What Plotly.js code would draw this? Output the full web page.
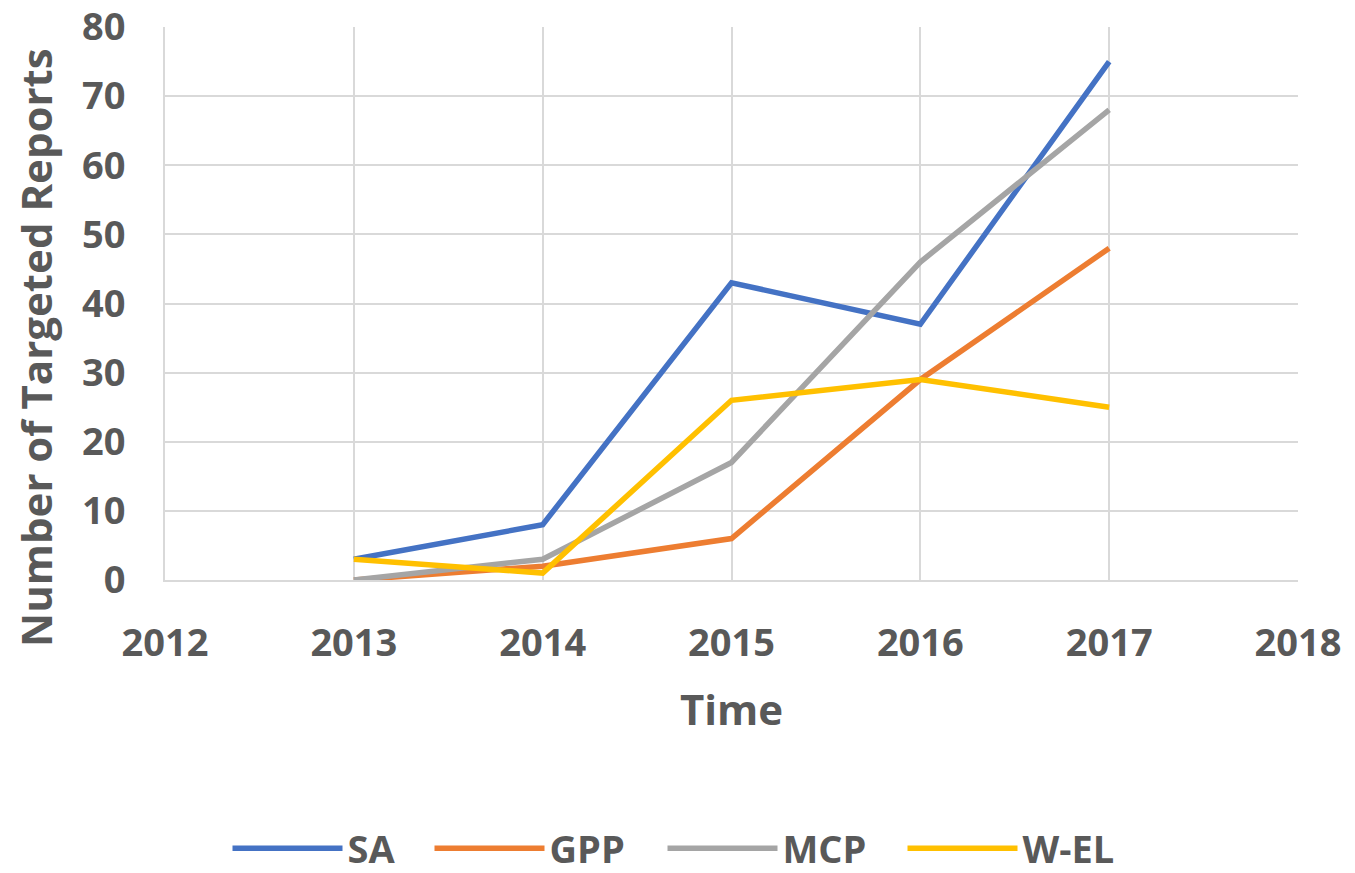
<!DOCTYPE html>
<html><head><meta charset="utf-8">
<script src="https://cdn.plot.ly/plotly-3.0.1.min.js"></script>
<style>body{margin:0}#chart{width:1355px;height:873px}</style>
</head><body><div id="chart"></div>
<script>
const years = [2013, 2014, 2015, 2016, 2017];
const SA = [3, 8, 43, 37, 75];
const GPP = [0, 2, 6, 29, 48];
const MCP = [0, 3, 17, 46, 68];
const WEL = [3, 1, 26, 29, 25];
const seriesNames = ['SA', 'GPP', 'MCP', 'W-EL'];
const seriesColors = ['#4472C4', '#ED7D31', '#A5A5A5', '#FFC000'];
const seriesData = [SA, GPP, MCP, WEL];
const legendWidths = [77, 108, 115, 100];

const font = 'Open Sans, Liberation Sans, sans-serif';
const textColor = '#595959';
const traces = seriesData.map((d, i) => ({
  x: years, y: d, type: 'scatter', mode: 'lines', name: seriesNames[i],
  line: {color: seriesColors[i], width: 5.5},
  legendwidth: legendWidths[i]
}));

const W = 1355, H = 873, mL = 165, mR = 57, mT = 27, mB = 293;
const plotW = W - mL - mR, plotH = H - mT - mB;

const layout = {
  width: W, height: H,
  margin: {l: mL, r: mR, t: mT, b: mB},
  paper_bgcolor: '#fff', plot_bgcolor: '#fff',
  font: {family: font, color: textColor},
  showlegend: true,
  legend: {orientation: 'h', xref: 'container', yref: 'container', x: 0.5, xanchor: 'center', y: 0.028, yanchor: 'middle',
    font: {size: 38, family: font, color: textColor, weight: 'bold'}, itemwidth: 110, traceorder: 'normal'},
  xaxis: {range: [2012, 2018], dtick: 1, tick0: 2012, showgrid: true, gridcolor: '#d9d9d9', gridwidth: 2,
    zeroline: false, showline: true, linecolor: '#d9d9d9', linewidth: 2, mirror: false,
    ticks: '', ticklabelstandoff: 28, ticklabeloverflow: 'allow',
    tickfont: {size: 38, family: font, color: textColor, weight: 'bold'},
    title: {text: 'Time', font: {size: 42, family: font, color: textColor, weight: 'bold'}, standoff: 30}},
  yaxis: {range: [0, 80], dtick: 10, showgrid: true, gridcolor: '#d9d9d9', gridwidth: 2,
    zeroline: false, showline: true, linecolor: '#d9d9d9', linewidth: 2,
    ticks: '', ticklabelstandoff: 30, ticklabeloverflow: 'allow',
    tickfont: {size: 38, family: font, color: textColor, weight: 'bold'}},
  annotations: [{
    text: 'Number of Targeted Reports', textangle: -90, showarrow: false,
    xref: 'paper', yref: 'paper', x: -(mL - 35) / plotW, y: (H - mB - 348) / plotH,
    xanchor: 'center', yanchor: 'middle',
    font: {size: 42, family: font, color: textColor, weight: 'bold'}
  }]
};
Plotly.newPlot('chart', traces, layout, {displayModeBar: false});
</script></body></html>
